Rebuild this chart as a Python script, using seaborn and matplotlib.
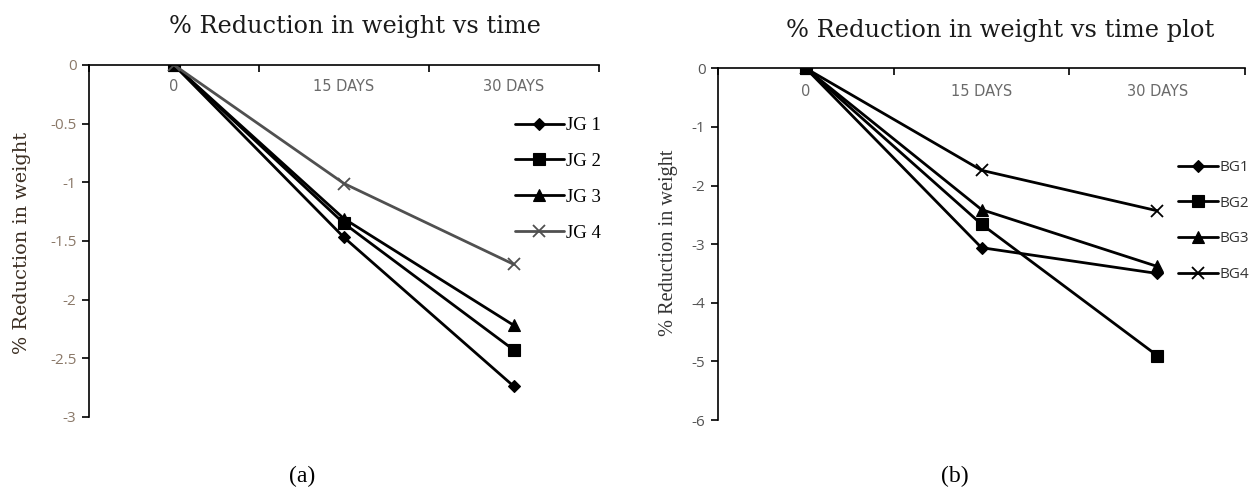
import numpy as np
import pandas as pd
import matplotlib
matplotlib.use("Agg")
import matplotlib.pyplot as plt
from matplotlib.ticker import FixedLocator, FuncFormatter
import seaborn as sns

# ---------------- data ----------------
times = ["0", "15 DAYS", "30 DAYS"]

labels_a = ["JG 1", "JG 2", "JG 3", "JG 4"]
jg1 = [0.0, -1.47, -2.74]
jg2 = [0.0, -1.35, -2.43]
jg3 = [0.0, -1.31, -2.22]
jg4 = [0.0, -1.01, -1.70]

labels_b = ["BG1", "BG2", "BG3", "BG4"]
bg1 = [0.0, -3.06, -3.50]
bg2 = [0.0, -2.66, -4.90]
bg3 = [0.0, -2.41, -3.38]
bg4 = [0.0, -1.74, -2.43]

yticks_a = [0, -0.5, -1, -1.5, -2, -2.5, -3]
yticks_b = [0, -1, -2, -3, -4, -5, -6]

title_a = "% Reduction in weight vs time"
title_b = "% Reduction in weight vs time plot"
ylabel_text = "% Reduction in weight"

# ---------------- style ----------------
sns.set_theme(style="white")
plt.rcParams["font.family"] = ["DejaVu Sans"]
plt.rcParams["axes.unicode_minus"] = False

W, H = 1252, 488
fig = plt.figure(figsize=(W / 100, H / 100), dpi=100)
fig.patch.set_facecolor("white")

axA = fig.add_axes([89 / W, 1 - 417 / H, 510 / W, 352 / H])
axB = fig.add_axes([718 / W, 1 - 420 / H, 527 / W, 351.7 / H])


def long_df(labels, series):
    rows = []
    for lab, vals in zip(labels, series):
        for t, v in zip(times, vals):
            rows.append({"time": t, "value": v, "series": lab})
    return pd.DataFrame(rows)


dfA = long_df(labels_a, [jg1, jg2, jg3, jg4])
dfB = long_df(labels_b, [bg1, bg2, bg3, bg4])

marker_list = ["D", "s", "^", "x"]
msizes = [6.5, 9, 9, 9]

colA = ["black", "black", "black", "#505050"]
colB = ["black", "black", "black", "black"]


def draw(ax, df, labels, cols, ymin, yticks, tick_color, xtick_pad, legend_font,
         legend_color, legend_anchor, legend_fs, label_spacing):
    sns.lineplot(data=df, x="time", y="value", hue="series", style="series",
                 hue_order=labels, style_order=labels,
                 palette=dict(zip(labels, cols)),
                 markers=dict(zip(labels, ["D", "s", "^", "o"])),
                 dashes=False, sort=False, linewidth=2.0, legend=False, ax=ax)
    lines = ax.lines[:4]
    for ln, c, ms, mk in zip(lines, cols, msizes, marker_list):
        ln.set_marker(mk)
        ln.set_markersize(ms)
        ln.set_markeredgecolor(c)
        ln.set_markerfacecolor(c)
        ln.set_markeredgewidth(1.3 if mk == "x" else 0.8)
    ax.set_xlim(-0.5, 2.5)
    ax.set_ylim(ymin, 0)
    for s in ["top", "right"]:
        ax.spines[s].set_visible(False)
    for s in ["left", "bottom"]:
        ax.spines[s].set_color("black")
        ax.spines[s].set_linewidth(1.2)
    ax.spines["bottom"].set_position(("data", 0))
    ax.xaxis.set_major_locator(FixedLocator([-0.5, 0.5, 1.5, 2.5]))
    ax.xaxis.set_major_formatter(FuncFormatter(lambda v, p: ""))
    ax.set_xticks([0, 1, 2], labels=times, minor=True)
    ax.tick_params(axis="x", which="major", direction="out", length=5, width=1.2,
                   color="black", bottom=True)
    ax.tick_params(axis="x", which="minor", length=0, pad=xtick_pad, labelsize=10.5,
                   labelcolor="#6a6a6a")
    for t in ax.get_xticklabels(minor=True):
        t.set_fontfamily("DejaVu Sans")
    ax.set_yticks(yticks)
    ax.yaxis.set_major_formatter(FuncFormatter(lambda v, p: "{:g}".format(v)))
    ax.tick_params(axis="y", direction="out", length=5, width=1.2, color="black",
                   left=True, labelsize=11, labelcolor=tick_color, pad=4)
    for t in ax.get_yticklabels():
        t.set_fontfamily("Open Sans")
    ax.set_xlabel("")
    ax.set_ylabel("")
    ax.grid(False)
    ax.set_facecolor("white")
    leg = ax.legend(lines, labels, loc="upper left",
                    bbox_to_anchor=legend_anchor, bbox_transform=fig.transFigure,
                    frameon=False, borderpad=0, borderaxespad=0, handlelength=2.6,
                    handletextpad=0.1, labelspacing=label_spacing,
                    prop={"family": legend_font, "size": legend_fs})
    for t in leg.get_texts():
        t.set_color(legend_color)


draw(axA, dfA, labels_a, colA, -3, yticks_a, "#8a7868", 10, "Liberation Serif", "black",
     (515 / W, 1 - 117 / H), 13.5, 1.0)
draw(axB, dfB, labels_b, colB, -6, yticks_b, "#555555", 11, "Open Sans", "#333333",
     (1178 / W, 1 - 160 / H), 11, 1.35)

renderer = fig.canvas.get_renderer()


def fit(t, target, vertical=False):
    bb = t.get_window_extent(renderer)
    cur = bb.height if vertical else bb.width
    t.set_fontsize(t.get_fontsize() * target / cur)


# titles
tA = fig.text(355 / W, 1 - 27 / H, title_a, ha="center", va="center",
              family="DejaVu Serif", size=16, color="#1a1a1a")
tB = fig.text(1000 / W, 1 - 30 / H, title_b, ha="center", va="center",
              family="DejaVu Serif", size=16, color="#1a1a1a")
fit(tA, 372)
fit(tB, 428)

# y labels
yA = fig.text(22 / W, 1 - 243 / H, ylabel_text, ha="center", va="center", rotation=90,
              family="DejaVu Serif", size=14, color="#3b2e22")
yB = fig.text(669 / W, 1 - 243 / H, ylabel_text, ha="center", va="center", rotation=90,
              family="Liberation Serif", size=14, color="#333333")
fit(yA, 222, vertical=True)
fit(yB, 187, vertical=True)

# panel captions
fig.text(302 / W, 1 - 476 / H, "(a)", ha="center", va="center",
         family="Liberation Serif", size=17, color="black")
fig.text(955 / W, 1 - 476 / H, "(b)", ha="center", va="center",
         family="Liberation Serif", size=17, color="black")

fig.savefig("out.png", dpi=100, facecolor="white")
